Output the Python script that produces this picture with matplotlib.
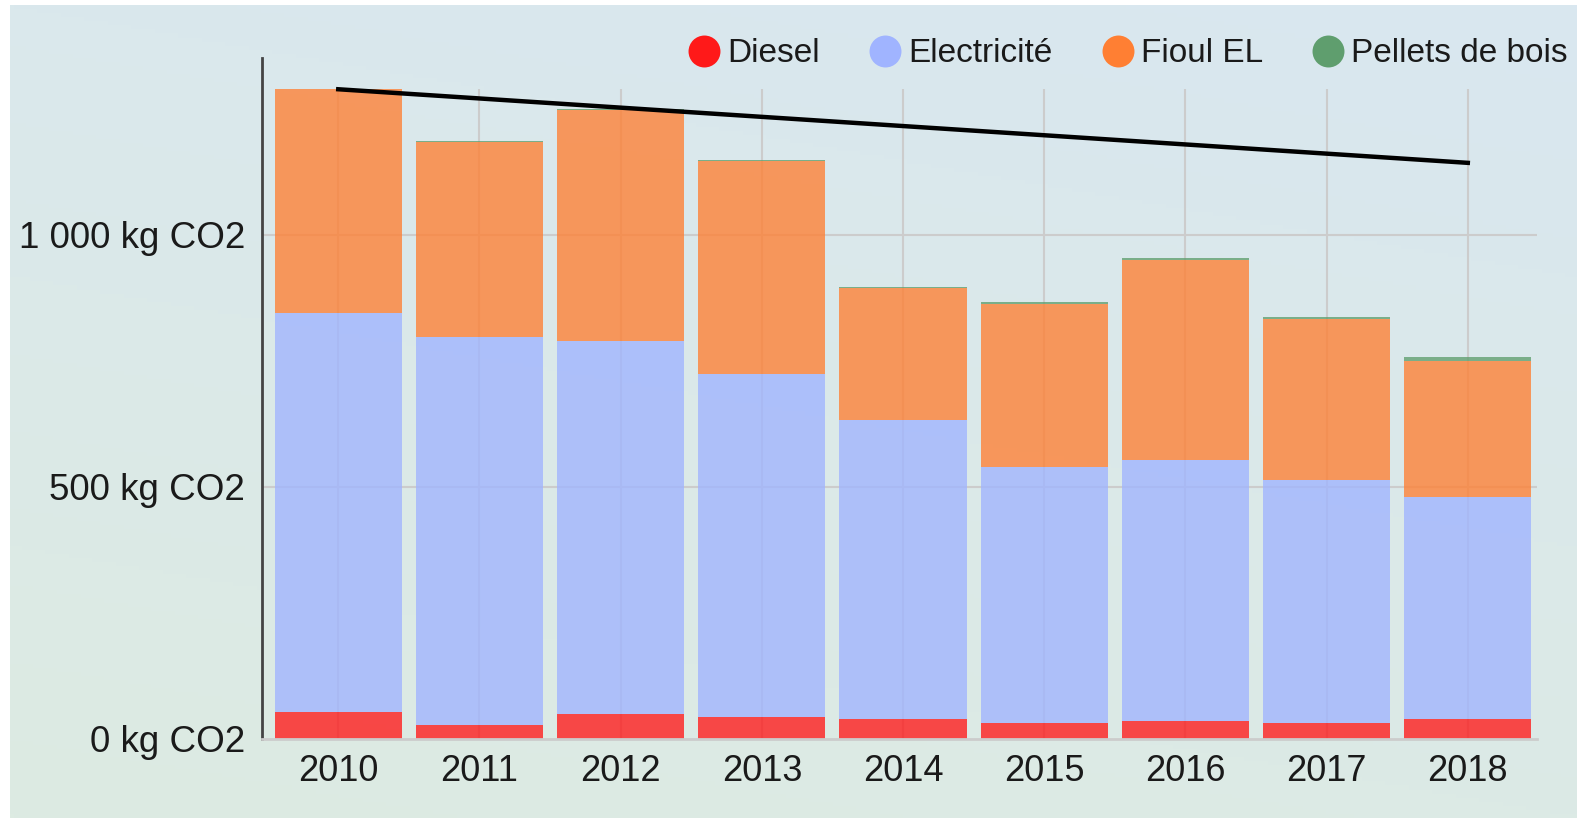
import numpy as np
import matplotlib
matplotlib.use('Agg')
import matplotlib.pyplot as plt
from matplotlib.lines import Line2D
from matplotlib.colors import to_rgb

plt.rcParams['font.family'] = ['Liberation Sans', 'DejaVu Sans']

# 数据 (kg CO2)
years = ['2010', '2011', '2012', '2013', '2014', '2015', '2016', '2017', '2018']
diesel = [54, 28, 50, 44, 40, 32, 36, 32, 40]
electricite = [791, 769, 740, 680, 593, 507, 518, 481, 440]
fioul = [444, 388, 457, 423, 261, 324, 397, 321, 270]
pellets = [0, 2, 2, 2, 3, 3, 3, 3, 8]

series_names = ['Diesel', 'Electricité', 'Fioul EL', 'Pellets de bois']
series_colors = ['#FF1919', '#A0B4FF', '#FF7F33', '#5F9E6E']

# 趋势线 (起点/终点)
trend_years = ['2010', '2018']
trend_values = [1289, 1143]

yticks = [0, 500, 1000]
ytick_labels = ['0 kg CO2', '500 kg CO2', '1 000 kg CO2']

W, H = 1577, 823
fig = plt.figure(figsize=(W / 100, H / 100), dpi=100)
fig.patch.set_facecolor('white')

# 背景渐变
bg = fig.add_axes([10 / W, 5 / H, 1 - 10 / W, 1 - 10 / H], zorder=-5)
top = np.array(to_rgb('#D9E7F0'))
bot = np.array(to_rgb('#DDEBE2'))
ny, nx = 200, 400
yy = np.linspace(0, 1, ny)[:, None]
xx = np.linspace(0, 1, nx)[None, :]
t = np.clip(0.75 * yy + 0.25 * (1 - xx), 0, 1)[..., None]
grad = top * (1 - t) + bot * t
bg.imshow(grad, aspect='auto', extent=[0, 1, 0, 1], origin='upper')
bg.axis('off')

ax = fig.add_axes([262 / W, 1 - 739 / H, 1275 / W, 681 / H])
ax.set_facecolor('none')

x = np.arange(len(years))
bottom = np.zeros(len(years))
for vals, name, col in zip([diesel, electricite, fioul, pellets], series_names, series_colors):
    ax.bar(x, vals, bottom=bottom, width=0.9, color=col, alpha=0.78, label=name, zorder=2)
    bottom += np.array(vals)

tx = [years.index(y) for y in trend_years]
ax.plot(tx, trend_values, color='black', lw=3.2, zorder=3)

ax.set_xlim(-0.54, 8.49)
ax.set_ylim(0, 1351)

# 网格
for v in yticks[1:]:
    ax.axhline(v, color='#CCCCCC', lw=1.5, zorder=1)
ax.vlines(x, 0, 1290, color='#CCCCCC', lw=1.5, zorder=1)

ax.set_xticks(x)
ax.set_xticklabels(years, fontsize=26, color='#1A1A1A')
ax.set_yticks(yticks)
ax.set_yticklabels(ytick_labels, fontsize=26.5, color='#1A1A1A')
ax.tick_params(length=0, pad=12)
ax.tick_params(axis='x', pad=11)

for s in ['top', 'right']:
    ax.spines[s].set_visible(False)
ax.spines['left'].set_color('#444444')
ax.spines['left'].set_linewidth(2)
ax.spines['bottom'].set_color('#CCCCCC')
ax.spines['bottom'].set_linewidth(2)

handles = [Line2D([0], [0], marker='o', color='none', markerfacecolor=c, markeredgecolor='none',
                  markersize=23) for c in series_colors]
fig.legend(handles, series_names, loc='center right', bbox_to_anchor=(1.0 + 6 / W, 1 - 54 / H), ncol=4,
           frameon=False, fontsize=24, handletextpad=0.0, columnspacing=1.25, handlelength=1.4,
           borderaxespad=0.05, labelcolor='#1A1A1A')

fig.savefig('out.png', dpi=100)
